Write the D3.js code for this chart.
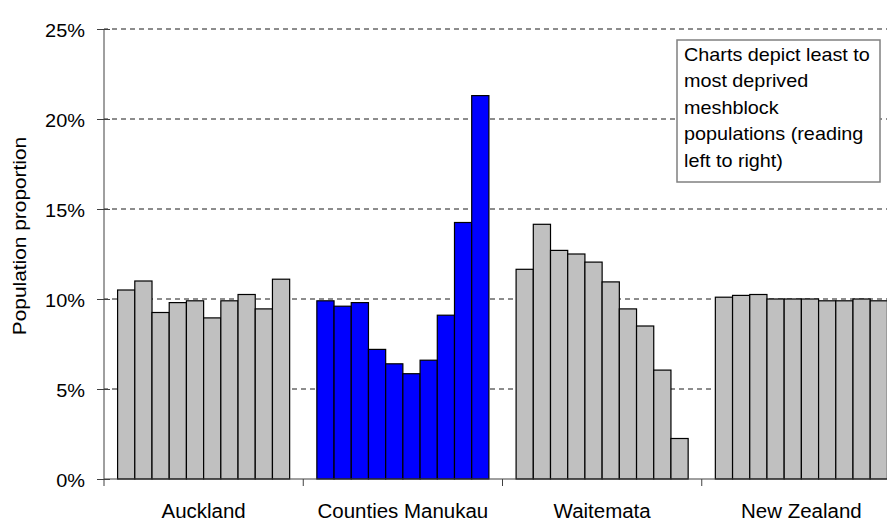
<!DOCTYPE html>
<html><head><meta charset="utf-8">
<script src="https://cdn.jsdelivr.net/npm/d3@7"></script>
<style>body{margin:0;background:#fff}svg{display:block}text{font-family:"Liberation Sans",Arial,sans-serif;fill:#000}</style>
</head><body><svg id="c" width="887" height="522"></svg>
<script>
const categories = ["Auckland","Counties Manukau","Waitemata","New Zealand"];
const auckland = [10.5,11.0,9.25,9.8,9.9,8.95,9.9,10.25,9.45,11.1];
const countiesManukau = [9.9,9.6,9.8,7.2,6.4,5.85,6.6,9.1,14.25,21.3];
const waitemata = [11.65,14.15,12.7,12.5,12.05,10.95,9.45,8.5,6.05,2.25];
const newZealand = [10.1,10.2,10.25,10.0,10.0,10.0,9.9,9.9,10.0,9.9];
const seriesValues = [auckland, countiesManukau, waitemata, newZealand];
const barColors = ["#C0C0C0","#0000FF","#C0C0C0","#C0C0C0"];
const yTicks = [0,5,10,15,20,25];
const yTitle = "Population proportion";
const noteLines = ["Charts depict least to","most deprived","meshblock","populations (reading","left to right)"];

const svg = d3.select("#c");
const x = d3.scaleBand().domain(categories).range([104, 901]).paddingInner(0).paddingOuter(0);
const xi = d3.scaleBand().domain(d3.range(10)).range([0, x.bandwidth()]).paddingInner(0).paddingOuter(0.79);
const y = d3.scaleLinear().domain([0, 25]).range([479, 29]);

// gridlines
svg.append("g").selectAll("line").data(yTicks.filter(d=>d>0)).join("line")
  .attr("x1",104).attr("x2",887).attr("y1",d=>y(d)).attr("y2",d=>y(d))
  .attr("stroke","#1a1a1a").attr("stroke-width",1).attr("stroke-dasharray","5,4").attr("stroke-dashoffset",-8);

// bars
categories.forEach((c,ci)=>{
  svg.append("g").selectAll("rect").data(seriesValues[ci]).join("rect")
    .attr("x",(d,i)=>x(c)+xi(i)).attr("width",xi.bandwidth())
    .attr("y",d=>y(d)).attr("height",d=>y(0)-y(d))
    .attr("fill",barColors[ci]).attr("stroke","#000").attr("stroke-width",1.2);
});

// y axis
const yAxis = d3.axisLeft(y).tickValues(yTicks).tickSizeInner(6).tickSizeOuter(0).tickFormat(d=>d+"%");
const ga = svg.append("g").attr("transform","translate(104,0)").call(yAxis);
ga.select(".domain").attr("stroke","#404040").attr("d","M0,29V479");
ga.selectAll(".tick line").attr("stroke","#404040").attr("x1",-7).attr("x2",6);
ga.selectAll(".tick text").attr("x",0).attr("dy",null).attr("y",0)
  .attr("font-size","17.5px").attr("font-family","Liberation Sans, Arial, sans-serif")
  .attr("text-anchor","end").attr("transform","translate(-19,7) scale(1.14,1)");

// x axis
const xAxis = d3.axisBottom(x).tickSize(0).tickSizeOuter(0);
const gx = svg.append("g").attr("transform","translate(0,479)").call(xAxis);
gx.select(".domain").attr("stroke","#404040").attr("d","M104,0H887");
gx.selectAll(".tick text").attr("y",0).attr("dy",null)
  .attr("font-size","19.5px").attr("font-family","Liberation Sans, Arial, sans-serif")
  .attr("transform","translate(0,39) scale(1.05,1)");
// category boundary ticks
svg.append("g").selectAll("line").data(categories).join("line")
  .attr("x1",d=>x(d)).attr("x2",d=>x(d)).attr("y1",479).attr("y2",486)
  .attr("stroke","#404040");

// y title
svg.append("text").attr("transform","translate(26,236) rotate(-90) scale(1.16,1)")
  .attr("text-anchor","middle").attr("font-size","18px").text(yTitle);

// note box
svg.append("rect").attr("x",677).attr("y",40).attr("width",203).attr("height",142)
  .attr("fill","#fff").attr("stroke","#808080").attr("stroke-width",1.5);
svg.append("g").selectAll("text").data(noteLines).join("text")
  .attr("transform",(d,i)=>`translate(684,${60.5+i*26.5}) scale(1.1,1)`)
  .attr("font-size","18px").text(d=>d);
</script></body></html>
